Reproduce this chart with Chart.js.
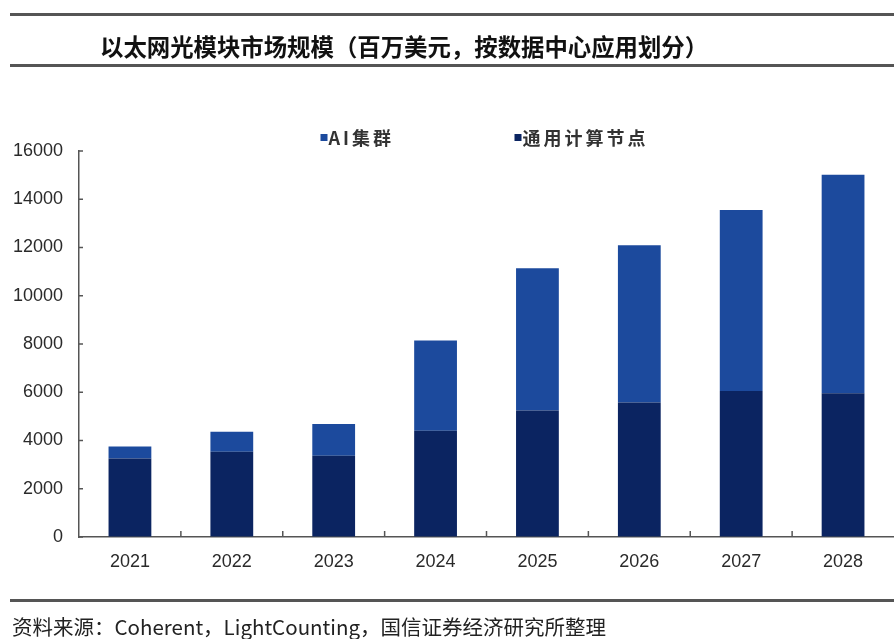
<!DOCTYPE html>
<html>
<head>
<meta charset="utf-8">
<script src="https://cdn.jsdelivr.net/npm/chart.js@4/dist/chart.umd.min.js"></script>
<style>
  html, body { margin:0; padding:0; background:#fff; }
  body { width:894px; height:639px; position:relative; overflow:hidden; font-family:"Noto Sans CJK SC", sans-serif; }
  .rule { position:absolute; left:10px; right:0; height:3px; background:#555; }
  #title { position:absolute; left:100px; top:29px; font-size:23.4px; font-weight:bold; color:#111; white-space:nowrap; }
  #source { position:absolute; left:12px; top:611px; font-size:20.5px; color:#222; white-space:nowrap; }
  #wrap { position:absolute; left:0; top:0; width:894px; height:639px; }
</style>
</head>
<body>
<div id="wrap"><canvas id="chart"></canvas></div>
<div class="rule" style="top:13px"></div>
<div id="title">以太网光模块市场规模（百万美元，按数据中心应用划分）</div>
<div class="rule" style="top:64px"></div>
<div class="rule" style="top:599px"></div>
<div id="source">资料来源：Coherent，LightCounting，国信证券经济研究所整理</div>
<script>
(function(){
  const years = ['2021','2022','2023','2024','2025','2026','2027','2028'];
  const generalNodes = [3250, 3530, 3370, 4400, 5240, 5570, 6050, 5960]; // 通用计算节点
  const aiCluster = [500, 835, 1315, 3740, 5900, 6520, 7500, 9060];     // AI集群
  const yTicks = [0, 2000, 4000, 6000, 8000, 10000, 12000, 14000, 16000];

  const dark = '#0b2461', light = '#1c4a9d', axisCol = '#555';

  // small inward tick marks + legend, drawn off the chart's own scales
  const extras = {
    id: 'extras',
    afterDraw(chart){
      const {ctx, chartArea:a, scales:{x, y}} = chart;
      ctx.save();
      ctx.strokeStyle = axisCol; ctx.lineWidth = 1.5;
      y.ticks.forEach(t=>{
        const py = y.getPixelForValue(t.value);
        ctx.beginPath(); ctx.moveTo(a.left, py); ctx.lineTo(a.left+4, py); ctx.stroke();
      });
      const step = (x.right - x.left)/years.length;
      for(let i=1;i<years.length;i++){
        const px = x.getPixelForValue(i) - step/2;
        ctx.beginPath(); ctx.moveTo(px, a.bottom); ctx.lineTo(px, a.bottom-6); ctx.stroke();
      }
      // legend: AI first, then general
      const mid = (a.left + a.right)/2;
      const items = [[chart.data.datasets[1], mid-166], [chart.data.datasets[0], mid+28]];
      ctx.font = 'bold 18px "Noto Sans CJK SC"';
      ctx.letterSpacing = '3px';
      ctx.textBaseline = 'middle';
      items.forEach(([ds, lx])=>{
        ctx.fillStyle = ds.backgroundColor;
        ctx.fillRect(lx, 134, 7, 7);
        ctx.fillStyle = '#333';
        ctx.fillText(ds.label, lx+8, 138);
      });
      ctx.restore();
    }
  };

  new Chart(document.getElementById('chart'), {
    type: 'bar',
    data: {
      labels: years,
      datasets: [
        { label:'通用计算节点', data: generalNodes, backgroundColor: dark, categoryPercentage:0.42, barPercentage:1 },
        { label:'AI集群', data: aiCluster, backgroundColor: light, categoryPercentage:0.42, barPercentage:1 }
      ]
    },
    options: {
      responsive: true,
      maintainAspectRatio: false,
      animation: false,
      layout: { padding: { top:151, right:0, bottom:0, left:0 } },
      plugins: { legend:{display:false}, tooltip:{enabled:false} },
      scales: {
        x: {
          stacked: true,
          grid: { display:true, drawOnChartArea:false, drawTicks:false },
          border: { color: axisCol, width: 1.5 },
          ticks: { color:'#2a2a2a', padding:14, font:{ family:'"Liberation Sans", sans-serif', size:18 } },
          afterFit(s){ s.height = 102; }
        },
        y: {
          stacked: true,
          min: 0, max: 16000,
          afterBuildTicks(s){ s.ticks = yTicks.map(v=>({value:v})); },
          grid: { display:true, drawOnChartArea:false, drawTicks:false },
          border: { color: axisCol, width: 1.5 },
          ticks: { color:'#2a2a2a', padding:16, font:{ family:'"Liberation Sans", sans-serif', size:18 }, callback:v=>String(v) },
          afterFit(s){ s.width = 79; }
        }
      }
    },
    plugins: [extras]
  });
})();
</script>
</body>
</html>
